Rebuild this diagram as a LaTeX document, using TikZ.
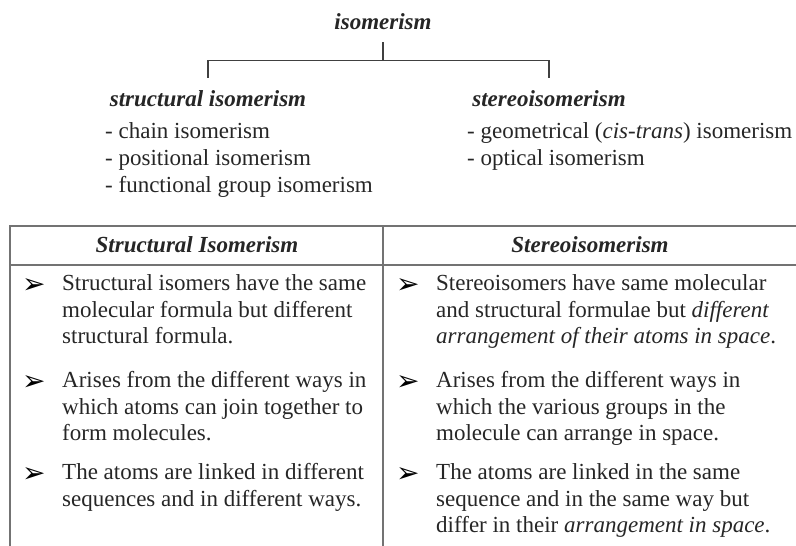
\documentclass[tikz,border=0pt]{standalone}
\usepackage{fontspec}
\setmainfont{Liberation Serif}
\newfontfamily\dingfont{DejaVu Sans}
\usepackage{tikz}
\usetikzlibrary{calc}

\begin{document}
\begin{tikzpicture}[x=1pt,y=1pt,
    txt/.style={inner sep=0pt,text=black!85,font=\fontsize{23}{26.5}\selectfont},
    head/.style={txt,anchor=base,font=\fontsize{23}{26.5}\selectfont\bfseries\itshape},
    cell/.style={txt,anchor=north west,align=left,yshift=18.55pt,execute at begin node=\strut},
    arrowbullet/.style={inner sep=0pt,anchor=base west,text=black,font=\dingfont\fontsize{28}{28}\selectfont},
    branch/.style={draw=black!75,line width=1.2pt},
    rule/.style={draw=black!55,line width=1.2pt}]
        \useasboundingbox (0,0) rectangle (796,-546);

        %%% Tree %%%
        \node[head] (iso) at (383,-30) {isomerism};
        \node[head] (struct) at (208,-106) {structural isomerism};
        \node[head] (stereo) at (549,-106) {stereoisomerism};
        \draw[branch] ([yshift=-12pt]iso.south) -- ++(0,-18) coordinate (bar) -| ([yshift=12pt]struct.north);
        \draw[branch] (bar) -| ([yshift=12pt]stereo.north);

        %%% Kinds %%%
        \node[cell] (chain) at (105,-138) {- chain isomerism};
        \node[cell] (posit) at (105,-165) {- positional isomerism};
        \node[cell] (funct) at (105,-192) {- functional group isomerism};
        \node[cell] (geom) at (467,-138) {- geometrical (\textit{cis-trans}) isomerism};
        \node[cell] (optic) at (467,-165) {- optical isomerism};

        %%% Table %%%
        \draw[rule] (797,-226) -- (10,-226) -- (10,-547);
        \draw[rule] (10,-265) -- (797,-265);
        \draw[rule] (383,-226) -- (383,-547);
        \node[head] (lhead) at (197,-252) {Structural Isomerism};
        \node[head] (rhead) at (590,-252) {Stereoisomerism};

        %%% Left column %%%
        \node[arrowbullet] (lb1) at (22,-293) {➢};
        \node[cell] (lc1) at (62,-293) {Structural isomers have the same\\molecular formula but different\\structural formula.};
        \node[arrowbullet] (lb2) at (22,-390) {➢};
        \node[cell] (lc2) at (62,-390) {Arises from the different ways in\\which atoms can join together to\\form molecules.};
        \node[arrowbullet] (lb3) at (22,-482) {➢};
        \node[cell] (lc3) at (62,-482) {The atoms are linked in different\\sequences and in different ways.};

        %%% Right column %%%
        \node[arrowbullet] (rb1) at (396,-293) {➢};
        \node[cell] (rc1) at (436,-293) {Stereoisomers have same molecular\\and structural formulae but \textit{different}\\\textit{arrangement of their atoms in space}.};
        \node[arrowbullet] (rb2) at (396,-390) {➢};
        \node[cell] (rc2) at (436,-390) {Arises from the different ways in\\which the various groups in the\\molecule can arrange in space.};
        \node[arrowbullet] (rb3) at (396,-482) {➢};
        \node[cell] (rc3) at (436,-482) {The atoms are linked in the same\\sequence and in the same way but\\differ in their \textit{arrangement in space}.};
    \end{tikzpicture}
\end{document}
